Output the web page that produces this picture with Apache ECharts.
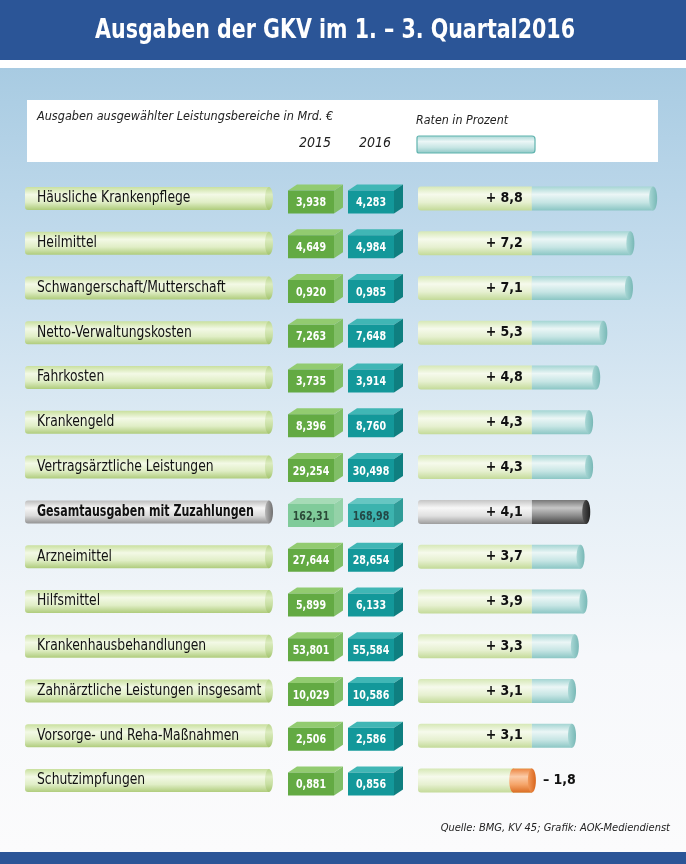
<!DOCTYPE html>
<html><head><meta charset="utf-8">
<script src="https://cdn.jsdelivr.net/npm/echarts@6/dist/echarts.min.js"></script>
<style>html,body{margin:0;padding:0;background:#fff}#c{width:686px;height:864px}</style>
</head><body><div id="c"></div>
<script>
const titleText = 'Ausgaben der GKV im 1. – 3. Quartal2016';
const subtitleText = 'Ausgaben ausgewählter Leistungsbereiche in Mrd. €';
const rateTitle = 'Raten in Prozent';
const sourceText = 'Quelle: BMG, KV 45; Grafik: AOK-Mediendienst';
const years = ['2015', '2016'];
const categories = [
  'Häusliche Krankenpflege', 'Heilmittel', 'Schwangerschaft/Mutterschaft', 'Netto-Verwaltungskosten',
  'Fahrkosten', 'Krankengeld', 'Vertragsärztliche Leistungen', 'Gesamtausgaben mit Zuzahlungen',
  'Arzneimittel', 'Hilfsmittel', 'Krankenhausbehandlungen', 'Zahnärztliche Leistungen insgesamt',
  'Vorsorge- und Reha-Maßnahmen', 'Schutzimpfungen'
];
const values2015 = [3.938, 4.649, 0.920, 7.263, 3.735, 8.396, 29.254, 162.31, 27.644, 5.899, 53.801, 10.029, 2.506, 0.881];
const values2016 = [4.283, 4.984, 0.985, 7.648, 3.914, 8.760, 30.498, 168.98, 28.654, 6.133, 55.584, 10.586, 2.586, 0.856];
const rates = [8.8, 7.2, 7.1, 5.3, 4.8, 4.3, 4.3, 4.1, 3.7, 3.9, 3.3, 3.1, 3.1, -1.8];
const totalCategory = 'Gesamtausgaben mit Zuzahlungen';

const FONT = "'DejaVu Sans Condensed','Liberation Sans Narrow',sans-serif";
const BLUE = '#2b5597';
const RATE_BASE = 8;
const isTotal = i => categories[i] === totalCategory;
const fmtVal = (v, i) => v.toFixed(isTotal(i) ? 2 : 3).replace('.', ',');
const fmtRate = r => (r < 0 ? '– ' : '+ ') + Math.abs(r).toFixed(1).replace('.', ',');
const vgrad = stops => new echarts.graphic.LinearGradient(0, 0, 0, 1, stops.map((c, k) => ({ offset: k / (stops.length - 1), color: c })));
const hgrad = stops => new echarts.graphic.LinearGradient(0, 0, 1, 0, stops.map((c, k) => ({ offset: k / (stops.length - 1), color: c })));

const greenBar = () => vgrad(['#c9e09e', '#f3f9e6', '#e0eec6', '#afcc7c']);
const greenCap = () => vgrad(['#b9d58a', '#dcecc0', '#c6dea0', '#a3c46e']);
const grayBar = () => vgrad(['#bdbdbd', '#f6f6f6', '#dadada', '#949494']);
const grayCap = () => hgrad(['#b8b8b8', '#6e6e6e']);
const baseGreen = () => vgrad(['#d6e8b6', '#f6faec', '#e6f0d0', '#c3da98']);
const baseGray = () => vgrad(['#c4c4c4', '#f7f7f7', '#e0e0e0', '#9e9e9e']);
const tealPart = () => vgrad(['#a4d5d3', '#ebf6f6', '#c6e5e4', '#8bc6c4']);
const tealCap = () => hgrad(['#a8d7d5', '#78b8b6']);
const orangePart = () => vgrad(['#ec8540', '#fbcba8', '#f5a468', '#db6c22']);
const orangeCap = () => hgrad(['#f29a5c', '#d9651c']);
const darkGray = () => vgrad(['#767676', '#c6c6c6', '#8a8a8a', '#444444']);
const darkCap = () => hgrad(['#555555', '#1e1e1e']);

const rowTop = 176, rowH = 627;

const chart = echarts.init(document.getElementById('c'), null, { renderer: 'canvas' });

const boxColors = [
  { front: '#63aa43', top: '#92cb70', side: '#80be66', text: '#ffffff' },
  { front: '#13989a', top: '#40b6b5', side: '#0f7f80', text: '#ffffff' }
];
const boxColorsTotal = [
  { front: '#80cb9a', top: '#a6dbb6', side: '#94d2a8', text: '#2b4a38' },
  { front: '#3cb3ae', top: '#66c6c2', side: '#2f9c98', text: '#234846' }
];

const boxData = [];
values2015.forEach((v, i) => boxData.push([0, i, v]));
values2016.forEach((v, i) => boxData.push([1, i, v]));

function renderBox(params, api) {
  const col = api.value(0), row = api.value(1), val = api.value(2);
  const p = api.coord([col, row]);
  const cx = p[0], cy = p[1];
  const x0 = cx - 27, x1 = cx + 19, y0 = cy - 8, y1 = cy + 15, dx = 9, dy = 6;
  const c = (isTotal(row) ? boxColorsTotal : boxColors)[col];
  return {
    type: 'group',
    children: [
      { type: 'polygon', shape: { points: [[x0, y0], [x0 + dx, y0 - dy], [x1 + dx, y0 - dy], [x1, y0]] }, style: { fill: c.top } },
      { type: 'polygon', shape: { points: [[x1, y0], [x1 + dx, y0 - dy], [x1 + dx, y1 - dy], [x1, y1]] }, style: { fill: c.side } },
      { type: 'rect', shape: { x: x0, y: y0, width: x1 - x0, height: y1 - y0 }, style: { fill: c.front } },
      { type: 'text', x: (x0 + x1) / 2, y: (y0 + y1) / 2 + 1, scaleX: 0.88,
        style: { x: 0, y: 0, text: fmtVal(val, row), fill: c.text, font: 'bold 12px ' + FONT, align: 'center', verticalAlign: 'middle' } }
    ]
  };
}

function renderLabelBar(params, api) {
  const row = api.value(1);
  const s = api.coord([0, row]), e = api.coord([api.value(0), row]);
  const h = 23, cy = s[1], y = cy - h / 2, rx = 4;
  const total = isTotal(row);
  return {
    type: 'group',
    children: [
      { type: 'rect', shape: { x: s[0], y: y, width: e[0] - s[0] - rx, height: h, r: [3, 0, 0, 3] }, style: { fill: total ? grayBar() : greenBar() } },
      { type: 'ellipse', shape: { cx: e[0] - rx, cy: cy, rx: rx, ry: h / 2 }, style: { fill: total ? grayCap() : greenCap() } },
      { type: 'text', x: s[0] + 12, y: cy, scaleX: total ? 0.82 : 0.915,
        style: { x: 0, y: 0, text: categories[row], fill: '#111', font: (total ? 'bold ' : '') + '15px ' + FONT, verticalAlign: 'middle' } }
    ]
  };
}

function renderRate(params, api) {
  const r = api.value(0), row = api.value(1);
  const pL = api.coord([0, row]), pB = api.coord([RATE_BASE, row]), pE = api.coord([RATE_BASE + r, row]);
  const h = 24, cy = pL[1], y = cy - h / 2, rx = 4;
  const total = isTotal(row);
  const kids = [
    { type: 'rect', shape: { x: pL[0], y: y, width: pB[0] - pL[0], height: h, r: [3, 0, 0, 3] }, style: { fill: total ? baseGray() : baseGreen() } }
  ];
  if (r >= 0) {
    kids.push({ type: 'rect', shape: { x: pB[0], y: y, width: pE[0] - pB[0] - rx, height: h }, style: { fill: total ? darkGray() : tealPart() } });
    kids.push({ type: 'ellipse', shape: { cx: pE[0] - rx, cy: cy, rx: rx, ry: h / 2 }, style: { fill: total ? darkCap() : tealCap() } });
    kids.push({ type: 'text', style: { x: pB[0] - 9, y: cy, text: fmtRate(r), fill: '#111', font: 'bold 14px ' + FONT, align: 'right', verticalAlign: 'middle' } });
  } else {
    kids.push({ type: 'ellipse', shape: { cx: pE[0] + 7, cy: cy, rx: rx, ry: h / 2 }, style: { fill: orangePart() } });
    kids.push({ type: 'rect', shape: { x: pE[0] + 7, y: y, width: pB[0] - pE[0] - 7, height: h }, style: { fill: orangePart() } });
    kids.push({ type: 'ellipse', shape: { cx: pB[0], cy: cy, rx: rx, ry: h / 2 }, style: { fill: orangeCap() } });
    kids.push({ type: 'text', style: { x: pB[0] + 11, y: cy, text: fmtRate(r), fill: '#111', font: 'bold 14px ' + FONT, align: 'left', verticalAlign: 'middle' } });
  }
  return { type: 'group', children: kids };
}

const option = {
  animation: false,
  graphic: [
    { type: 'rect', z: -10, shape: { x: 0, y: 0, width: 686, height: 60 }, style: { fill: BLUE } },
    { type: 'rect', z: -10, shape: { x: 0, y: 60, width: 686, height: 8 }, style: { fill: '#ffffff' } },
    { type: 'rect', z: -10, shape: { x: 0, y: 68, width: 686, height: 784 }, style: { fill: vgrad(['#a8cbe2', '#c4dced', '#e2edf5', '#f6f8fb', '#fbfbfc']) } },
    { type: 'rect', z: -10, shape: { x: 0, y: 852, width: 686, height: 12 }, style: { fill: BLUE } },
    { type: 'text', z: 10, x: 335, y: 31, scaleX: 0.88, style: { x: 0, y: 0, text: titleText, fill: '#ffffff', font: 'bold 26px ' + FONT, align: 'center', verticalAlign: 'middle' } },
    { type: 'rect', z: -5, shape: { x: 27, y: 100, width: 631, height: 62 }, style: { fill: '#ffffff' } },
    { type: 'text', z: 10, x: 37, y: 117, scaleX: 0.965, style: { x: 0, y: 0, text: subtitleText, fill: '#222', font: 'italic 13px ' + FONT, verticalAlign: 'middle' } },
    { type: 'text', z: 10, x: 416, y: 121, scaleX: 0.95, style: { x: 0, y: 0, text: rateTitle, fill: '#222', font: 'italic 13px ' + FONT, verticalAlign: 'middle' } },
    { type: 'rect', z: 5, shape: { x: 417, y: 136, width: 118, height: 17, r: [2, 3, 3, 2] }, style: { fill: tealPart(), stroke: '#5fb3ae', lineWidth: 1.2 } },
    { type: 'text', z: 10, style: { x: 670, y: 828, text: sourceText, fill: '#222', font: 'italic 11px ' + FONT, align: 'right', verticalAlign: 'middle' } }
  ],
  grid: [
    { left: 25, top: rowTop, width: 248, height: rowH },
    { left: 285, top: rowTop, width: 120, height: rowH },
    { left: 418, top: rowTop, width: 242, height: rowH }
  ],
  xAxis: [
    { gridIndex: 0, type: 'value', min: 0, max: 1, show: false },
    { gridIndex: 1, type: 'category', data: years, position: 'top', axisLine: { show: false }, axisTick: { show: false }, splitLine: { show: false },
      axisLabel: { margin: 26, color: '#222', fontSize: 14, fontStyle: 'italic', fontFamily: FONT } },
    { gridIndex: 2, type: 'value', min: 0, max: 17, show: false }
  ],
  yAxis: [0, 1, 2].map(g => ({ gridIndex: g, type: 'category', data: categories, inverse: true, show: false })),
  series: [
    { type: 'custom', xAxisIndex: 0, yAxisIndex: 0, renderItem: renderLabelBar, encode: { x: 0, y: 1 },
      data: categories.map((c, i) => [1, i]) },
    { type: 'custom', xAxisIndex: 1, yAxisIndex: 1, renderItem: renderBox, data: boxData, encode: { x: 0, y: 1 } },
    { type: 'custom', xAxisIndex: 2, yAxisIndex: 2, renderItem: renderRate, encode: { x: 0, y: 1 },
      data: rates.map((r, i) => [r, i]) }
  ]
};
chart.setOption(option);
</script>
</body></html>
